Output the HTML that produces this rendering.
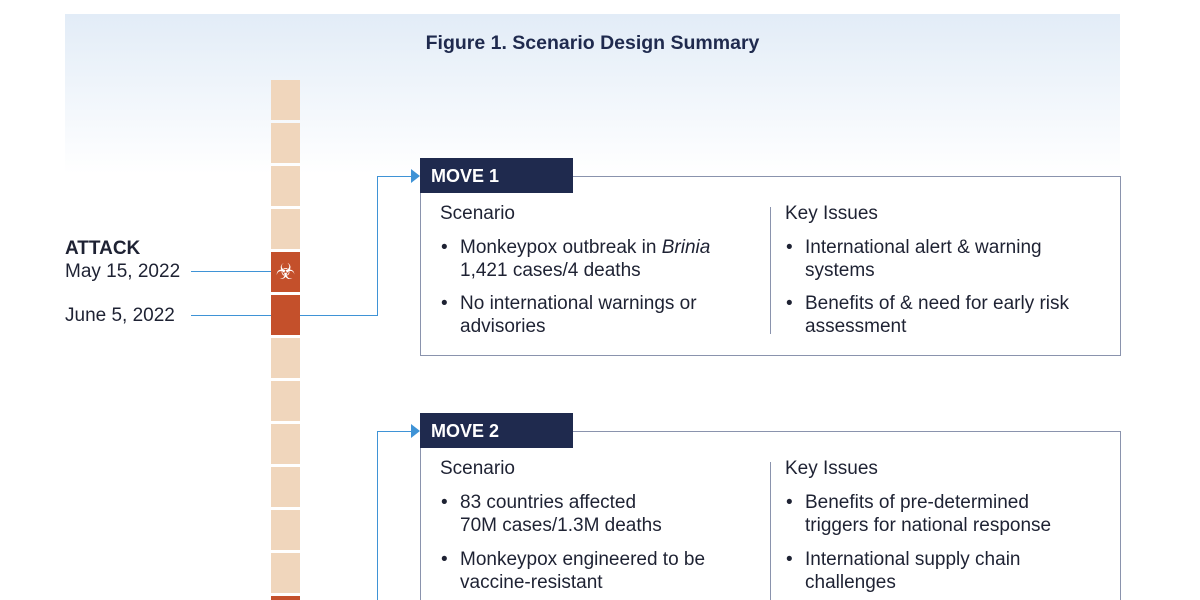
<!DOCTYPE html>
<html><head><style>
html,body{margin:0;width:1200px;height:600px;overflow:hidden}
body{background:#fff;position:relative;font-family:"Liberation Sans",sans-serif;color:#1e2233}
.bg{position:absolute;left:65px;top:14px;width:1055px;height:160px;background:linear-gradient(#e2ecf7,#fff)}
.blk{position:absolute;left:271px;width:29px;height:40px;background:#f0d6bc}
.or{background:#c4502b}
.hl{position:absolute;height:1px;background:#3f93d6}
.vl{position:absolute;width:1px;background:#3f93d6}
.box{position:absolute;left:420px;width:699px;border:1px solid #8a93ad}
.hdr{position:absolute;left:420px;width:153px;height:35px;background:#1f2a4e;color:#fff;font-weight:bold;font-size:18px;line-height:36px;padding-left:11px;box-sizing:border-box}
.arr{position:absolute;width:0;height:0;border-top:7px solid transparent;border-bottom:7px solid transparent;border-left:9px solid #3f93d6}
.t{position:absolute;font-size:19px;line-height:23px;white-space:nowrap}
.b{position:absolute;font-size:19px;line-height:23px}
.dv{position:absolute;left:770px;width:1px;background:#8a93ad}
</style></head><body>
<div class="bg"></div>
<div class="t" style="left:0;width:1185px;text-align:center;top:32px;font-weight:bold;font-size:19.5px;color:#1f2a4e">Figure 1. Scenario Design Summary</div>

<div class="blk" style="top:80px"></div>
<div class="blk" style="top:123px"></div>
<div class="blk" style="top:166px"></div>
<div class="blk" style="top:209px"></div>
<div class="blk or" style="top:252px;color:#fff;text-align:center;font-size:22px;line-height:40px">☣</div>
<div class="blk or" style="top:295px"></div>
<div class="blk" style="top:338px"></div>
<div class="blk" style="top:381px"></div>
<div class="blk" style="top:424px"></div>
<div class="blk" style="top:467px"></div>
<div class="blk" style="top:510px"></div>
<div class="blk" style="top:553px"></div>
<div class="blk or" style="top:596px;height:4px"></div>

<div class="t" style="left:65px;top:237px;font-weight:bold">ATTACK</div>
<div class="t" style="left:65px;top:260px">May 15, 2022</div>
<div class="t" style="left:65px;top:304px">June 5, 2022</div>
<div class="hl" style="left:191px;top:271px;width:80px"></div>
<div class="hl" style="left:191px;top:315px;width:80px"></div>
<div class="hl" style="left:300px;top:315px;width:78px"></div>
<div class="vl" style="left:377px;top:176px;height:140px"></div>
<div class="hl" style="left:377px;top:176px;width:36px"></div>
<div class="arr" style="left:411px;top:169px"></div>
<div class="vl" style="left:377px;top:431px;height:169px"></div>
<div class="hl" style="left:377px;top:431px;width:36px"></div>
<div class="arr" style="left:411px;top:424px"></div>

<div class="box" style="top:176px;height:178px"></div>
<div class="hdr" style="top:158px">MOVE 1</div>
<div class="dv" style="top:207px;height:127px"></div>
<div class="t" style="left:440px;top:202px">Scenario</div>
<div class="t" style="left:785px;top:202px">Key Issues</div>
<div class="b" style="left:441px;top:236px">•</div>
<div class="t" style="left:460px;top:236px">Monkeypox outbreak in <i>Brinia</i><br>1,421 cases/4 deaths</div>
<div class="b" style="left:441px;top:292px">•</div>
<div class="t" style="left:460px;top:292px">No international warnings or<br>advisories</div>
<div class="b" style="left:786px;top:236px">•</div>
<div class="t" style="left:805px;top:236px">International alert &amp; warning<br>systems</div>
<div class="b" style="left:786px;top:292px">•</div>
<div class="t" style="left:805px;top:292px">Benefits of &amp; need for early risk<br>assessment</div>

<div class="box" style="top:431px;height:168px;border-bottom:none"></div>
<div class="hdr" style="top:413px">MOVE 2</div>
<div class="dv" style="top:462px;height:138px"></div>
<div class="t" style="left:440px;top:457px">Scenario</div>
<div class="t" style="left:785px;top:457px">Key Issues</div>
<div class="b" style="left:441px;top:491px">•</div>
<div class="t" style="left:460px;top:491px">83 countries affected<br>70M cases/1.3M deaths</div>
<div class="b" style="left:441px;top:548px">•</div>
<div class="t" style="left:460px;top:548px">Monkeypox engineered to be<br>vaccine-resistant</div>
<div class="b" style="left:786px;top:491px">•</div>
<div class="t" style="left:805px;top:491px">Benefits of pre-determined<br>triggers for national response</div>
<div class="b" style="left:786px;top:548px">•</div>
<div class="t" style="left:805px;top:548px">International supply chain<br>challenges</div>
</body></html>
